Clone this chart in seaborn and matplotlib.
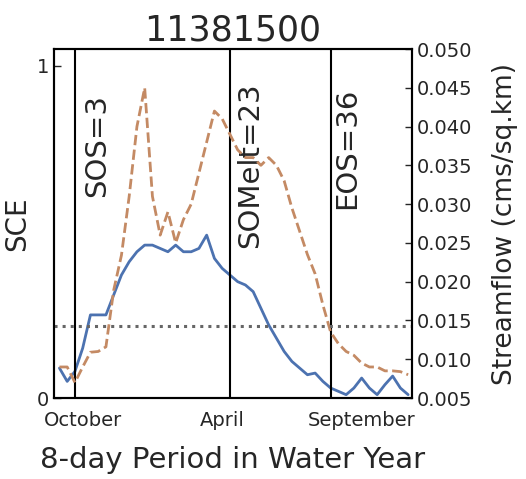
import numpy as np
import pandas as pd
import matplotlib
matplotlib.use("Agg")
import matplotlib.pyplot as plt
import seaborn as sns

# 8-day periods of the water year
periods = list(range(1, 47))

# snow cover extent (left axis)
sce = [0.09, 0.05, 0.08, 0.15, 0.25, 0.25, 0.25, 0.31, 0.37, 0.41,
       0.44, 0.46, 0.46, 0.45, 0.44, 0.46, 0.44, 0.44, 0.45, 0.49,
       0.42, 0.39, 0.37, 0.35, 0.34, 0.32, 0.27, 0.22, 0.18, 0.14,
       0.11, 0.09, 0.07, 0.075, 0.05, 0.03, 0.02, 0.01, 0.03, 0.06,
       0.03, 0.01, 0.04, 0.066, 0.03, 0.01]

# streamflow (right axis)
flow = [0.009, 0.009, 0.007, 0.009, 0.0109, 0.011, 0.0116, 0.0189, 0.0234, 0.031,
        0.040, 0.045, 0.031, 0.026, 0.029, 0.025, 0.028, 0.030, 0.034, 0.038,
        0.042, 0.041, 0.039, 0.037, 0.036, 0.036, 0.035, 0.036, 0.035, 0.033,
        0.0295, 0.0265, 0.0235, 0.021, 0.017, 0.0135, 0.012, 0.011, 0.0105, 0.0095,
        0.009, 0.009, 0.0085, 0.0085, 0.0084, 0.008]

flow_threshold = 0.0143
markers = {"SOS": 3, "SOMelt": 23, "EOS": 36}
label_pos = {"SOS": (5.8, 0.76), "SOMelt": (25.6, 0.70), "EOS": (38.1, 0.75)}
tick_pos = [4, 22, 40]
tick_labels = ["October", "April", "September"]
station = "11381500"

df = pd.DataFrame({"period": periods, "sce": sce, "flow": flow})

sns.set_style("white")
plt.rcParams["font.family"] = ["DejaVu Sans"]

fig = plt.figure(figsize=(5.26, 4.79), dpi=100)
ax = fig.add_axes([0.1027, 0.1691, 0.6806, 0.7286])
ax2 = ax.twinx()

sns.lineplot(data=df, x="period", y="sce", ax=ax, color="#4c72b0", linewidth=2)
sns.lineplot(data=df, x="period", y="flow", ax=ax2, color="#c48a64",
             linewidth=2, linestyle="--")
ax2.axhline(flow_threshold, color="#666666", linestyle=":", linewidth=2.2)

for name, p in markers.items():
    ax.axvline(p, color="black", linewidth=1.5)
    tx, ty = label_pos[name]
    ax.text(tx, ty, f"{name}={p}", rotation=90, ha="center", va="center", fontsize=21)

ax.set_xlim(0.3, 46.5)
ax.set_ylim(0, 1.05)
ax2.set_ylim(0.005, 0.050)
ax.set_yticks([0, 1])
ax.set_yticklabels(["0", "1"])
ax2.set_yticks(np.arange(0.005, 0.0501, 0.005))
ax2.set_yticklabels([f"{v:.3f}" for v in np.arange(0.005, 0.0501, 0.005)])
ax.set_xticks(tick_pos)
ax.set_xticklabels(tick_labels)

ax.tick_params(direction="in", length=5, labelsize=14, width=1)
ax.tick_params(axis="x", pad=9)
ax2.tick_params(direction="in", length=5, labelsize=14, width=1)

ax.set_xlabel("8-day Period in Water Year", fontsize=21, labelpad=12)
ax.set_ylabel("SCE", fontsize=20)
ax2.set_ylabel("Streamflow (cms/sq.km)", fontsize=19, labelpad=14)
ax.set_title(station, fontsize=25)

for a in (ax, ax2):
    for s in a.spines.values():
        s.set_color("black")
        s.set_linewidth(1.5)

fig.savefig("out.png", dpi=100)
